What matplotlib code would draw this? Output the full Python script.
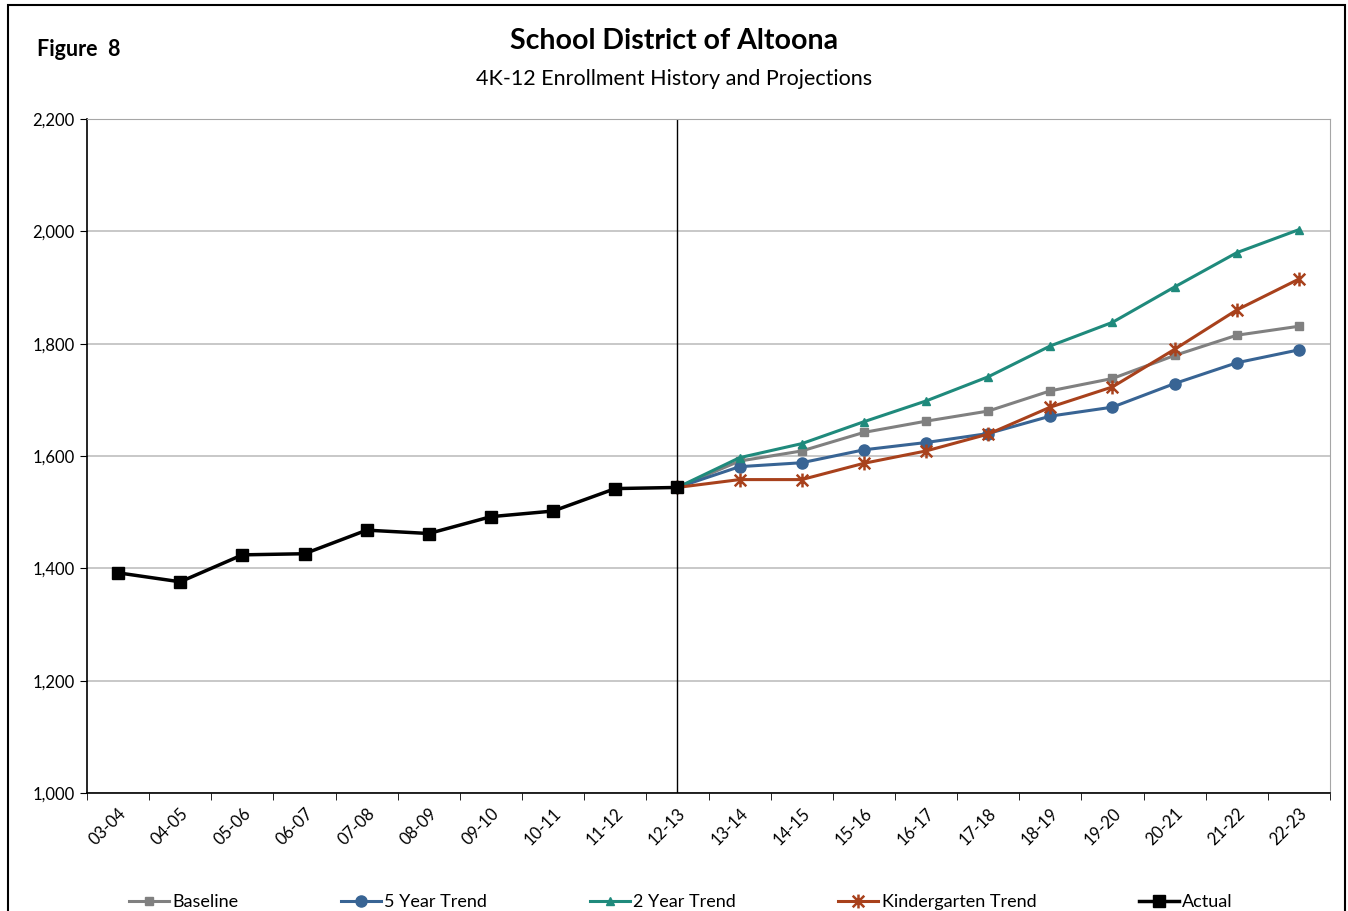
import matplotlib.pyplot as plt
import numpy as np
from matplotlib.patches import Rectangle
from matplotlib.path import Path

plt.rcParams['font.family'] = ['Lato', 'DejaVu Sans']

years = ['03-04', '04-05', '05-06', '06-07', '07-08', '08-09', '09-10', '10-11',
         '11-12', '12-13', '13-14', '14-15', '15-16', '16-17', '17-18', '18-19',
         '19-20', '20-21', '21-22', '22-23']

actual = [1392, 1376, 1424, 1426, 1468, 1462, 1492, 1502, 1542, 1544]
# projections start from the last actual year (12-13)
baseline = [1544, 1591, 1609, 1642, 1662, 1680, 1716, 1738, 1779, 1815, 1831]
trend5 = [1544, 1581, 1588, 1611, 1624, 1640, 1671, 1687, 1729, 1766, 1789]
trend2 = [1544, 1597, 1622, 1661, 1698, 1741, 1796, 1838, 1901, 1962, 2003]
kinder = [1544, 1558, 1558, 1587, 1609, 1639, 1687, 1723, 1790, 1860, 1915]

x = np.arange(len(years))
xa = x[:len(actual)]
xp = x[len(actual) - 1:]

# excel style star marker (x with a vertical bar)
star = Path([(-1, -1), (1, 1), (-1, 1), (1, -1), (0, -1.2), (0, 1.2)],
            [Path.MOVETO, Path.LINETO, Path.MOVETO, Path.LINETO, Path.MOVETO, Path.LINETO])

fig = plt.figure(figsize=(13.48, 9.11), dpi=100)
ax = fig.add_axes([87 / 1348, 1 - 793 / 911, (1330 - 87) / 1348, (793 - 119) / 911])

ax.plot(xp, baseline, color='#808080', lw=2.2, marker='s', ms=6, label='Baseline')
ax.plot(xp, trend5, color='#386494', lw=2.2, marker='o', ms=8, label='5 Year Trend')
ax.plot(xp, trend2, color='#1F8A7C', lw=2.2, marker='^', ms=6, label='2 Year Trend')
ax.plot(xp, kinder, color='#A8411C', lw=2.2, marker=star, ms=10, mew=1.8,
        markerfacecolor='none', label='Kindergarten Trend')
ax.plot(xa, actual, color='black', lw=2.5, marker='s', ms=8, label='Actual')

ax.axvline(9, color='black', lw=1)

ax.set_xlim(-0.5, len(years) - 0.5)
ax.set_ylim(1000, 2200)
ax.set_yticks(np.arange(1000, 2201, 200))
ax.set_yticklabels(['{:,}'.format(v) for v in range(1000, 2201, 200)], fontsize=12)
ax.yaxis.grid(True, color='#BFBFBF', lw=1.2)
ax.set_axisbelow(True)

ax.set_xticks(x)
ax.set_xticklabels(years, rotation=45, ha='right', rotation_mode='anchor', fontsize=12)
ax.set_xticks(np.arange(-0.5, len(years), 1), minor=True)
ax.tick_params(axis='x', which='major', length=0, pad=9)
ax.tick_params(axis='x', which='minor', length=5, direction='out')
ax.tick_params(axis='y', length=5, direction='out', pad=4)

ax.spines['top'].set_color('#A6A6A6')
ax.spines['right'].set_color('#A6A6A6')
ax.spines['left'].set_linewidth(1.2)
ax.spines['bottom'].set_linewidth(1.2)

fig.text(0.5, 1 - 41 / 911, 'School District of Altoona', ha='center', va='center',
         fontsize=20.5, fontweight='bold')
fig.text(0.5, 1 - 79 / 911, '4K-12 Enrollment History and Projections', ha='center',
         va='center', fontsize=15.5)
fig.text(37 / 1348, 1 - 49 / 911, 'Figure  8', ha='left', va='center', fontsize=15.5,
         fontweight='bold')

fig.legend(loc='center', bbox_to_anchor=(122 / 1348, 9 / 911 - 0.02, (1240 - 122) / 1348, 0.04),
           mode='expand', ncol=5, frameon=False, fontsize=13, handlelength=2.2,
           handletextpad=0.2, borderaxespad=0)

fig.patches.append(Rectangle((8 / 1348, -0.01), (1345 - 8) / 1348, 1 - 5 / 911 + 0.01,
                             transform=fig.transFigure, fill=False, edgecolor='black', lw=1.5))

fig.savefig('out.png', dpi=100)
